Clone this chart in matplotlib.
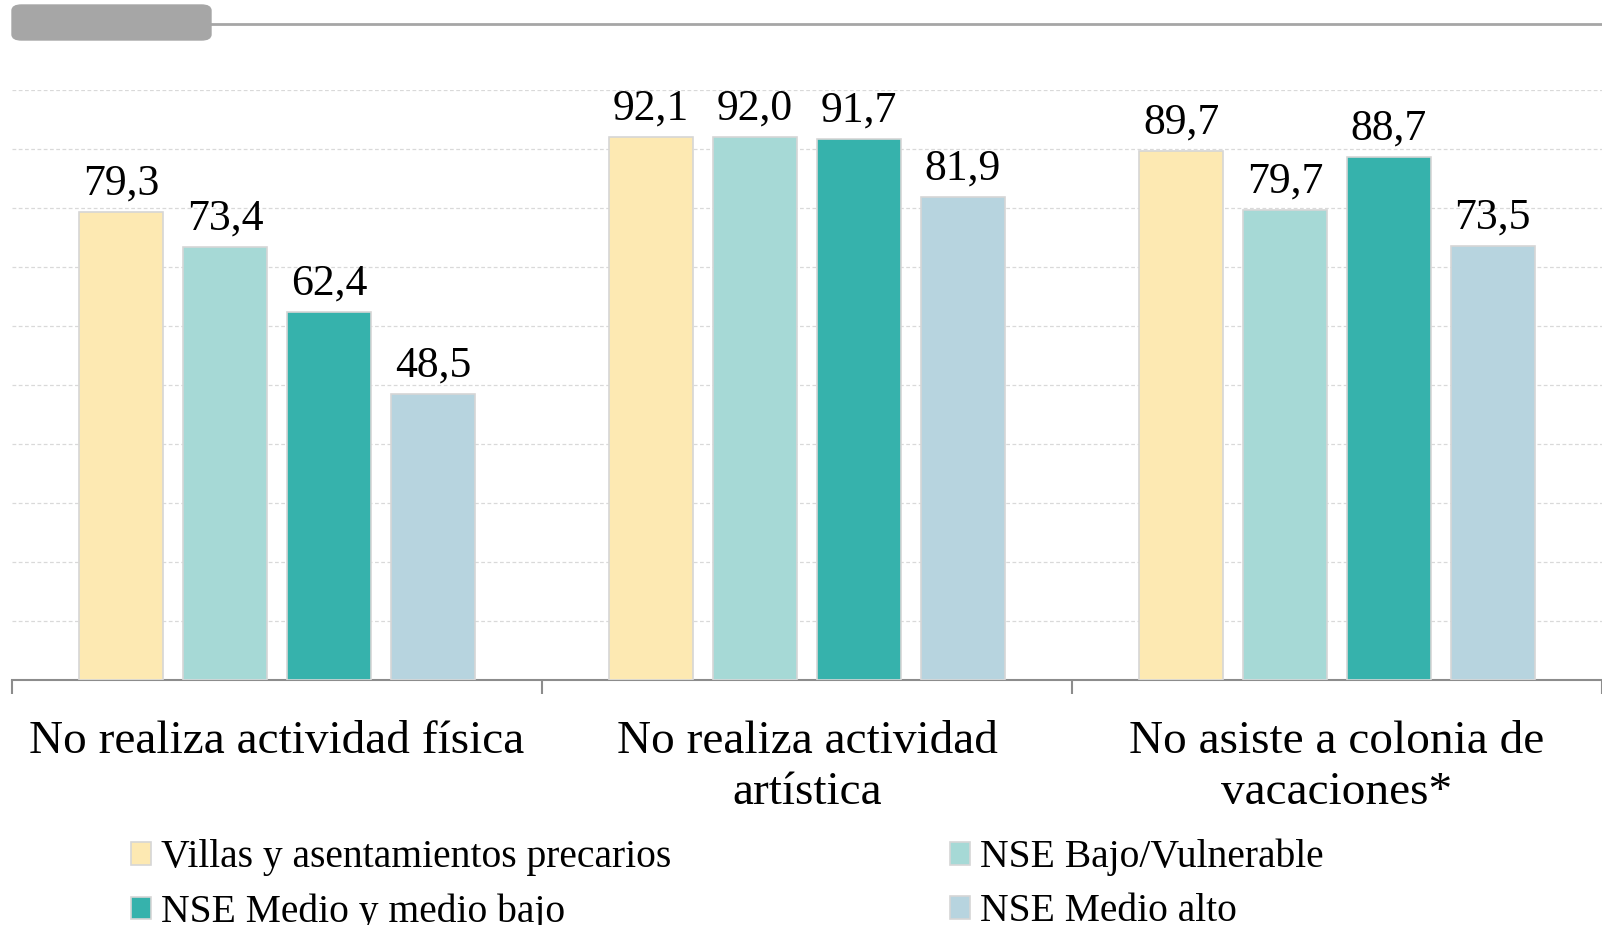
import numpy as np
import matplotlib.pyplot as plt
from matplotlib.patches import Patch, FancyBboxPatch
from matplotlib.lines import Line2D

categorias = ['No realiza actividad física', 'No realiza actividad\nartística',
              'No asiste a colonia de\nvacaciones*']
series = ['Villas y asentamientos precarios', 'NSE Bajo/Vulnerable',
          'NSE Medio y medio bajo', 'NSE Medio alto']
villas = [79.3, 92.1, 89.7]
bajo = [73.4, 92.0, 79.7]
medio = [62.4, 91.7, 88.7]
alto = [48.5, 81.9, 73.5]
colores = ['#FDE9B2', '#A6D9D6', '#36B2AC', '#B7D4DF']

plt.rcParams['font.family'] = ['Liberation Serif', 'DejaVu Serif']

fig = plt.figure(figsize=(16.02, 9.25), dpi=100)
ax = fig.add_axes([12/1602, 1-680/925, 1-12/1602, (680-90)/925])

x = np.arange(len(categorias))
ancho = 0.159
paso = 0.196
for i, (vals, col) in enumerate(zip([villas, bajo, medio, alto], colores)):
    pos = x + (i - 1.5) * paso
    bars = ax.bar(pos, vals, ancho, color=col, edgecolor='#d6d6d6', linewidth=1.2, zorder=3)
    for b, v in zip(bars, vals):
        ax.annotate(f'{v:.1f}'.replace('.', ','), (b.get_x() + b.get_width()/2, v),
                    xytext=(0, 6), textcoords='offset points', ha='center', va='bottom',
                    fontsize=31.5)

ax.set_xlim(-0.5, 2.5)
ax.set_ylim(0, 100)
ax.set_yticks(np.arange(10, 101, 10))
ax.yaxis.grid(True, linestyle=(0, (3, 2)), color='#d9d9d9', linewidth=0.9, zorder=0)
ax.tick_params(axis='y', left=False, labelleft=False)
ax.set_xticks(x)
ax.set_xticklabels(categorias, fontsize=34, linespacing=1.27)
ax.tick_params(axis='x', length=0, pad=29)
ax.set_xticks([-0.5, 0.5, 1.5, 2.5], minor=True)
ax.tick_params(axis='x', which='minor', length=10, width=1.5, color='#8c8c8c')
for s in ['top', 'right', 'left']:
    ax.spines[s].set_visible(False)
ax.spines['bottom'].set_color('#8c8c8c')
ax.spines['bottom'].set_linewidth(1.5)

# decoracion superior
fig.patches.append(FancyBboxPatch((12/1602, 1-40/925), 199/1602, 35/925,
                                  boxstyle='round,pad=0,rounding_size=0.006',
                                  transform=fig.transFigure, color='#a6a6a6'))
fig.lines.append(Line2D([211/1602, 1], [1-23.5/925, 1-23.5/925], transform=fig.transFigure,
                        color='#a6a6a6', linewidth=2))

orden = [0, 2, 1, 3]
handles = [Patch(facecolor=colores[k], edgecolor='#d6d6d6', linewidth=1.2) for k in orden]
labels = [series[k] for k in orden]
fig.legend(handles, labels, loc='upper left', bbox_to_anchor=(115/1602, 1-823/925),
           ncol=2, frameon=False, fontsize=28.5, handlelength=0.5, handleheight=0.5,
           handletextpad=0.25, columnspacing=7.05, labelspacing=0.43, borderaxespad=0)

fig.savefig('out.png', dpi=100)
